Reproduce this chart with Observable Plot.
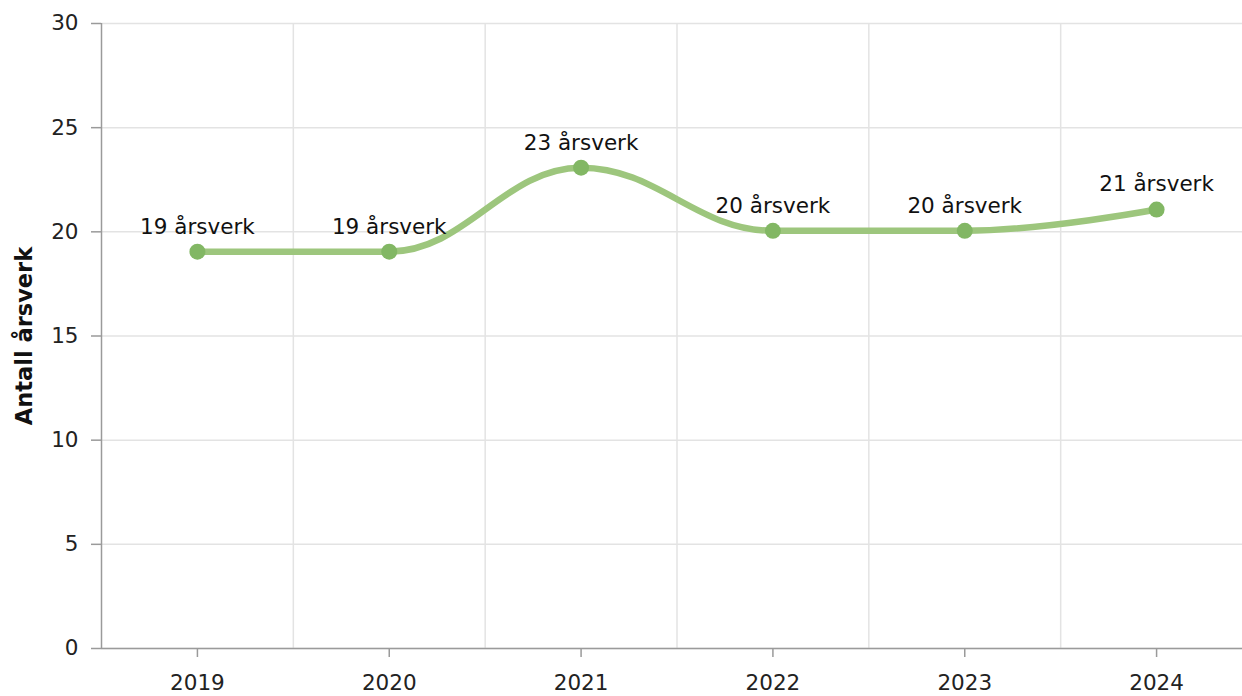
<!DOCTYPE html>
<html>
<head>
<meta charset="utf-8">
<script src="https://cdn.jsdelivr.net/npm/d3@7"></script>
<script src="https://cdn.jsdelivr.net/npm/@observablehq/plot@0.6"></script>
<style>
  html, body { margin: 0; padding: 0; background: #fff; }
  svg { display: block; }
</style>
</head>
<body>
<div id="chart"></div>
<script>
const years = [2019, 2020, 2021, 2022, 2023, 2024];
const values = [19.05, 19.05, 23.08, 20.05, 20.05, 21.07];
const pointLabels = ["19 årsverk", "19 årsverk", "23 årsverk", "20 årsverk", "20 årsverk", "21 årsverk"];
const yTicks = [0, 5, 10, 15, 20, 25, 30];
const yTitle = "Antall årsverk";

const data = years.map((year, i) => ({ year, value: values[i], label: pointLabels[i] }));
const boundaries = years.slice(1).map(y => y - 0.5);

// Spline curve (control points aligned through each point, no false extremes)
function SplineCurve(context) { this._context = context; }
SplineCurve.prototype = {
  areaStart() { this._line = 0; },
  areaEnd() { this._line = NaN; },
  lineStart() { this._pts = []; },
  point(x, y) { this._pts.push([+x, +y]); },
  lineEnd() {
    const p = this._pts, n = p.length, ctx = this._context;
    if (!n) return;
    const s = 1.5, den = s + 1;
    const lc = new Array(n), rc = new Array(n);
    for (let i = 1; i < n - 1; i++) {
      const [lx, ly] = p[i - 1], [px, py] = p[i], [nx, ny] = p[i + 1];
      const lcx = (s * px + lx) / den, rcx = (s * px + nx) / den;
      let lcy = (s * py + ly) / den, rcy = (s * py + ny) / den;
      const corr = ((rcy - lcy) * (rcx - px)) / (rcx - lcx) + py - rcy;
      lcy += corr; rcy += corr;
      if (lcy > ly && lcy > py) { lcy = Math.max(ly, py); rcy = 2 * py - lcy; }
      else if (lcy < ly && lcy < py) { lcy = Math.min(ly, py); rcy = 2 * py - lcy; }
      if (rcy > ny && rcy > py) { rcy = Math.max(ny, py); lcy = 2 * py - rcy; }
      else if (rcy < ny && rcy < py) { rcy = Math.min(ny, py); lcy = 2 * py - rcy; }
      lc[i] = [lcx, lcy]; rc[i] = [rcx, rcy];
    }
    if (this._line === 0) ctx.lineTo(p[0][0], p[0][1]); else ctx.moveTo(p[0][0], p[0][1]);
    for (let i = 1; i < n; i++) {
      const c1 = rc[i - 1] || p[i - 1], c2 = lc[i] || p[i];
      ctx.bezierCurveTo(c1[0], c1[1], c2[0], c2[1], p[i][0], p[i][1]);
    }
  }
};
const splineCurve = (context) => new SplineCurve(context);

const chart = Plot.plot({
  width: 1242,
  height: 696,
  marginTop: 23,
  marginBottom: 48,
  marginLeft: 101,
  marginRight: 0,
  style: { fontFamily: "Verdana, 'DejaVu Sans', sans-serif", fontSize: "21.5px", color: "#222", background: "#fff" },
  x: { type: "linear", domain: [years[0] - 0.5, years[years.length - 1] + 0.5], range: [101, 1252] },
  y: { domain: [0, 30] },
  marks: [
    Plot.gridY(yTicks, { stroke: "#e3e3e3", strokeOpacity: 1, strokeWidth: 1.5 }),
    Plot.ruleX(boundaries, { stroke: "#e3e3e3", strokeOpacity: 1, strokeWidth: 1.5 }),
    Plot.ruleX([years[0] - 0.5], { stroke: "#9a9a9a", strokeWidth: 1.5 }),
    Plot.ruleY([0], { stroke: "#9a9a9a", strokeWidth: 1.5 }),
    Plot.axisY({ ticks: yTicks, tickSize: 10, tickPadding: 13, label: null, stroke: "#9a9a9a", strokeWidth: 1.5, fill: "#222", fontSize: 21.5 }),
    Plot.axisX({ ticks: years, tickFormat: d => String(d), tickSize: 9, tickPadding: 17, label: null, stroke: "#9a9a9a", strokeWidth: 1.5, fill: "#222", fontSize: 21.5 }),
    Plot.text([yTitle], { frameAnchor: "left", textAnchor: "middle", dx: -77, rotate: -90, fontWeight: "bold", fontSize: 22.5, fill: "#111" }),
    Plot.line(data, { x: "year", y: "value", curve: splineCurve, stroke: "#9dc67d", strokeWidth: 6.5, strokeLinecap: "round" }),
    Plot.dot(data, { x: "year", y: "value", r: 8, fill: "#82b764", stroke: "none" }),
    Plot.text(data, { x: "year", y: "value", text: "label", dy: -25, fontSize: 21.5, fill: "#111" })
  ]
});
document.getElementById("chart").appendChild(chart);
</script>
</body>
</html>
